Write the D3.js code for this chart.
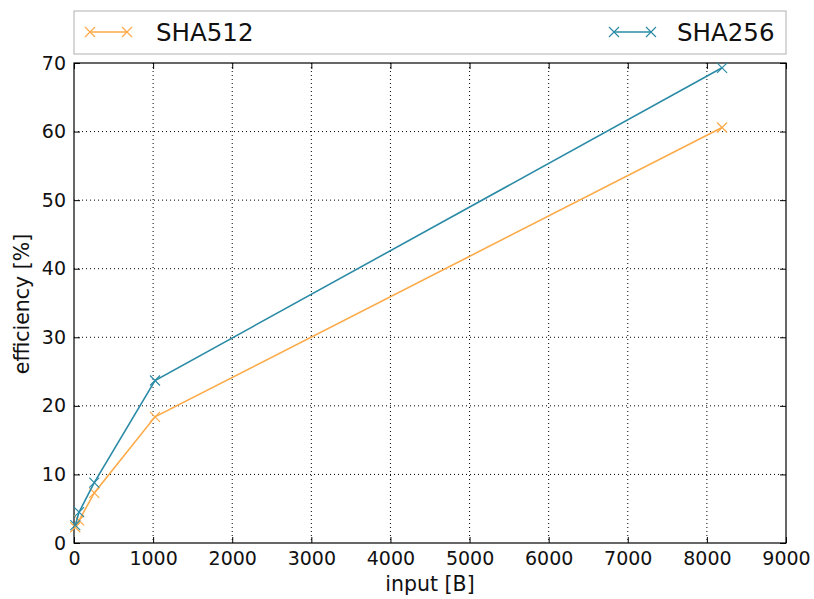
<!DOCTYPE html>
<html>
<head>
<meta charset="utf-8">
<script src="https://cdn.jsdelivr.net/npm/d3@7"></script>
<style>
  body { margin: 0; background: white; }
  svg { display: block; font-family: "DejaVu Sans", sans-serif; }
</style>
</head>
<body>
<svg id="chart"></svg>
<script>
// data
const inputSizes = [16, 64, 256, 1024, 8192];
const sha512 = [2.3, 3.3, 7.3, 18.4, 60.6];
const sha256 = [2.6, 4.5, 8.8, 23.7, 69.3];
const xTicks = [0, 1000, 2000, 3000, 4000, 5000, 6000, 7000, 8000, 9000];
const yTicks = [0, 10, 20, 30, 40, 50, 60, 70];

const w = 814, h = 599;
const padLeft = 74, padRight = 786, padTop = 63, padBottom = 543;

const series = [
  {name: "SHA512", values: sha512, color: "#fdaa48"},
  {name: "SHA256", values: sha256, color: "#2b8ba6"}
];

const svg = d3.select("#chart").attr("width", w).attr("height", h);

const x = d3.scaleLinear().domain([0, 9000]).range([padLeft, padRight]);
const y = d3.scaleLinear().domain([0, 70]).range([padBottom, padTop]);

// grid
svg.append("g").selectAll("line").data(xTicks.slice(1, -1)).enter().append("line")
   .attr("x1", d => x(d)).attr("x2", d => x(d)).attr("y1", padTop).attr("y2", padBottom)
   .attr("stroke", "black").attr("stroke-width", 1).attr("stroke-dasharray", "1,3");
svg.append("g").selectAll("line").data(yTicks.slice(1, -1)).enter().append("line")
   .attr("y1", d => y(d)).attr("y2", d => y(d)).attr("x1", padLeft).attr("x2", padRight)
   .attr("stroke", "black").attr("stroke-width", 1).attr("stroke-dasharray", "1,3");

// axes with inward ticks
const xAxis = d3.axisBottom(x).tickValues(xTicks).tickSize(-6).tickPadding(9).tickFormat(d3.format("d"));
const yAxis = d3.axisLeft(y).tickValues(yTicks).tickSize(-6).tickPadding(8).tickFormat(d3.format("d"));

const gx = svg.append("g").attr("transform", `translate(0,${padBottom})`).call(xAxis);
const gy = svg.append("g").attr("transform", `translate(${padLeft},0)`).call(yAxis);
svg.append("g").attr("transform", `translate(0,${padTop})`)
   .call(d3.axisTop(x).tickValues(xTicks).tickSize(-6).tickFormat(""));
svg.append("g").attr("transform", `translate(${padRight},0)`)
   .call(d3.axisRight(y).tickValues(yTicks).tickSize(-6).tickFormat(""));

svg.selectAll(".domain").remove();
svg.selectAll(".tick line").attr("stroke", "black");
[gx, gy].forEach(g => g.selectAll("text")
   .style("font-size", "19px").style("font-family", "DejaVu Sans").attr("fill", "#111"));

// frame
svg.append("rect").attr("x", padLeft).attr("y", padTop)
   .attr("width", padRight - padLeft).attr("height", padBottom - padTop)
   .attr("fill", "none").attr("stroke", "black").attr("stroke-width", 1.2);

// lines and markers
const line = d3.line().x((d, i) => x(inputSizes[i])).y(d => y(d));
const cross = (g, cx, cy, s, color) => {
  g.append("path")
   .attr("d", `M${cx - s},${cy - s}L${cx + s},${cy + s}M${cx - s},${cy + s}L${cx + s},${cy - s}`)
   .attr("stroke", color).attr("stroke-width", 1.2).attr("fill", "none");
};

series.forEach(s => {
  svg.append("path").datum(s.values).attr("d", line)
     .attr("fill", "none").attr("stroke", s.color).attr("stroke-width", 1.6);
  const g = svg.append("g");
  s.values.forEach((v, i) => cross(g, x(inputSizes[i]), y(v), 5, s.color));
});

// axis titles
svg.append("text").attr("x", 430).attr("y", 591)
   .attr("text-anchor", "middle").style("font-size", "20.5px").attr("fill", "#111")
   .text("input [B]");
svg.append("text").attr("transform", `translate(29,304) rotate(-90)`)
   .attr("text-anchor", "middle").style("font-size", "20.5px").attr("fill", "#111")
   .text("efficiency [%]");

// legend (expanded across the top)
svg.append("rect").attr("x", padLeft).attr("y", 11).attr("width", padRight - padLeft).attr("height", 43)
   .attr("fill", "white").attr("stroke", "#b0b0b0").attr("stroke-width", 1);
const legendPos = [{lx: 90, tx: 156}, {lx: 614, tx: 677}];
series.forEach((s, i) => {
  const p = legendPos[i];
  const lg = svg.append("g");
  lg.append("line").attr("x1", p.lx).attr("x2", p.lx + 37).attr("y1", 32).attr("y2", 32)
    .attr("stroke", s.color).attr("stroke-width", 1.6);
  cross(lg, p.lx, 32, 5, s.color);
  cross(lg, p.lx + 37, 32, 5, s.color);
  lg.append("text").attr("x", p.tx).attr("y", 41).style("font-size", "24.5px")
    .attr("fill", "#111").text(s.name);
});
</script>
</body>
</html>
